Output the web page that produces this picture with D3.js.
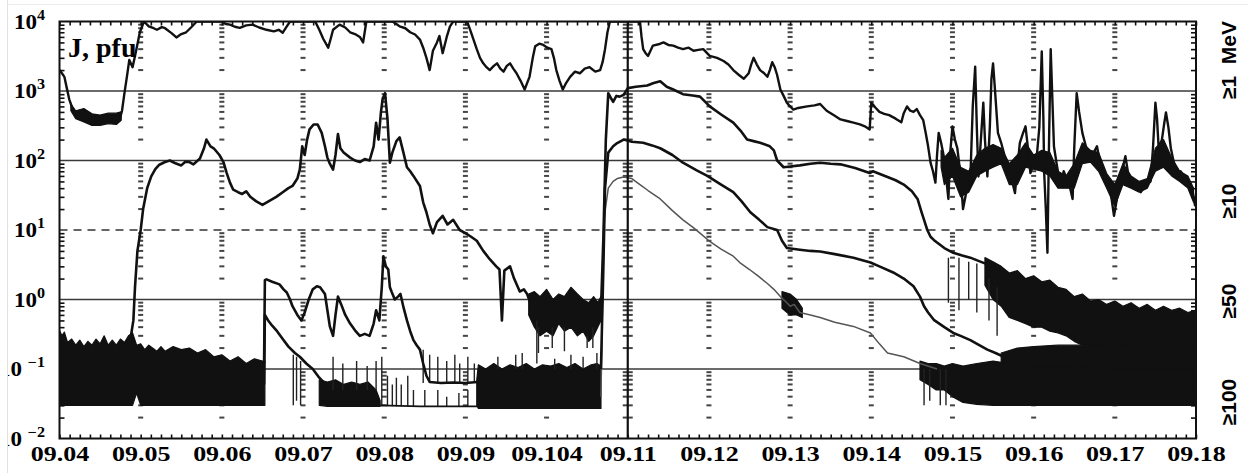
<!DOCTYPE html>
<html>
<head>
<meta charset="utf-8">
<script src="https://cdn.jsdelivr.net/npm/d3@7"></script>
<style>
  body { margin: 0; background: #fff; }
  svg { display: block; }
</style>
</head>
<body>
<svg id="chart" width="1248" height="473"></svg>
<script>
///////////////////////////////////////////////////////////
// Data: [day of September, flux in pfu]

// >=1 MeV
const ch1 = [
  [4.00,2000],[4.03,1800],[4.06,1600],[4.09,1100],[4.12,760],[4.16,560],[4.21,460],[4.27,520],[4.33,490],[4.38,400],
  [4.42,430],[4.46,350],[4.5,420],[4.54,340],[4.58,360],[4.62,420],[4.65,450],[4.69,360],[4.74,380],[4.77,520],
  [4.8,930],[4.83,1600],[4.86,2800],[4.9,2200],[4.94,3600],[4.99,7000],[5.04,10000],[5.1,8500],[5.16,8000],[5.2,7600],
  [5.26,8300],[5.3,8000],[5.38,6800],[5.44,5900],[5.5,6600],[5.56,7000],[5.62,8200],[5.69,10000],[6.0,10000],[6.05,9200],
  [6.1,9000],[6.16,8400],[6.22,8100],[6.3,8800],[6.38,9000],[6.46,8200],[6.55,7600],[6.64,7200],[6.7,7600],[6.75,6900],
  [6.8,8500],[6.84,10000],[7.15,10000],[7.2,7600],[7.25,5600],[7.31,4200],[7.34,5600],[7.37,7600],[7.45,9000],[7.52,8200],
  [7.58,7000],[7.64,6600],[7.7,6000],[7.74,5000],[7.78,10000],[8.1,10000],[8.15,9200],[8.19,8500],[8.26,8000],[8.32,7000],
  [8.38,6500],[8.44,5500],[8.48,4200],[8.52,3000],[8.56,2000],[8.6,3800],[8.65,5000],[8.68,6200],[8.72,3500],[8.77,6000],
  [8.81,8500],[8.85,10000],[9.02,10000],[9.06,7500],[9.1,5500],[9.14,4000],[9.18,3000],[9.22,2500],[9.26,2200],[9.3,2000],
  [9.35,2300],[9.39,2500],[9.43,2100],[9.47,1900],[9.51,2300],[9.55,2500],[9.59,2100],[9.63,1800],[9.68,1400],[9.73,1050],
  [9.76,1300],[9.79,1600],[9.83,3000],[9.86,4400],[9.91,4800],[9.96,4600],[10.01,4200],[10.06,4000],[10.09,3000],[10.12,2000],
  [10.16,1400],[10.2,1050],[10.24,1300],[10.29,1600],[10.35,1900],[10.41,1800],[10.47,2100],[10.53,2200],[10.6,1900],[10.66,2000],
  [10.69,2600],[10.72,4000],[10.75,7000],[10.78,10000],[11.15,10000],[11.17,6000],[11.19,4000],[11.22,3500],[11.25,3200],[11.31,4500],
  [11.38,4700],[11.44,5000],[11.5,4600],[11.56,4500],[11.62,4200],[11.68,4000],[11.75,4200],[11.81,3800],[11.87,3900],[11.93,4000],
  [12.01,3200],[12.1,3000],[12.18,2700],[12.24,2400],[12.3,2000],[12.37,1700],[12.43,1500],[12.49,1800],[12.52,2400],[12.55,3000],
  [12.59,2400],[12.63,2000],[12.68,1800],[12.72,1600],[12.75,2000],[12.78,2600],[12.81,2200],[12.84,1700],[12.88,1050],[12.92,850],
  [12.96,680],[13.0,600],[13.04,540],[13.1,570],[13.21,600],[13.3,620],[13.37,650],[13.45,520],[13.55,440],[13.62,390],
  [13.7,370],[13.78,350],[13.86,330],[13.92,310],[13.98,280],[14.0,680],[14.05,580],[14.1,500],[14.16,470],[14.22,450],
  [14.3,400],[14.37,355],[14.4,480],[14.44,600],[14.48,520],[14.52,500],[14.56,550],[14.6,450],[14.64,380],[14.67,250],
  [14.7,160],[14.73,93],[14.76,70],[14.79,48],[14.81,120],[14.83,250],[14.86,180],[14.89,120],[14.92,60],[14.95,28],
  [14.97,120],[15.0,310],[15.03,200],[15.06,150],[15.1,60],[15.13,20],[15.17,35],[15.22,54],[15.25,600],[15.28,2240],
  [15.3,300],[15.32,59],[15.35,200],[15.38,680],[15.4,200],[15.43,59],[15.46,300],[15.48,1500],[15.5,2500],[15.52,1200],
  [15.56,250],[15.6,180],[15.64,120],[15.67,100],[15.72,60],[15.77,34],[15.8,80],[15.83,180],[15.87,250],[15.9,310],
  [15.93,150],[15.96,66],[16.0,90],[16.04,120],[16.07,300],[16.1,3700],[16.12,400],[16.13,66],[16.15,20],[16.17,4.7],
  [16.19,200],[16.21,4000],[16.23,800],[16.25,160],[16.29,80],[16.33,43],[16.37,70],[16.42,50],[16.45,40],[16.48,28],
  [16.5,150],[16.53,930],[16.56,500],[16.6,250],[16.65,150],[16.7,115],[16.74,130],[16.78,160],[16.82,90],[16.86,60],
  [16.9,45],[16.95,34],[16.99,16],[17.03,30],[17.07,43],[17.1,80],[17.13,115],[17.16,70],[17.19,43],[17.25,50],
  [17.32,35],[17.38,45],[17.44,50],[17.47,150],[17.5,680],[17.52,400],[17.54,150],[17.58,200],[17.61,350],[17.63,490],
  [17.66,300],[17.69,150],[17.73,90],[17.77,66],[17.81,70],[17.85,60],[17.89,50],[17.93,45],[17.96,35],[17.99,22]
];

// >=10 MeV, before and after the 09.10 event
const ch10a = [
  [4.88,0.3],[4.91,0.5],[4.93,1.5],[4.96,5],[5.0,10],[5.03,20],[5.08,40],[5.13,59],[5.18,75],[5.23,87],
  [5.3,95],[5.36,100],[5.42,92],[5.5,85],[5.55,96],[5.6,95],[5.65,88],[5.73,107],[5.78,150],[5.81,200],
  [5.86,160],[5.9,150],[5.97,120],[6.02,95],[6.06,66],[6.1,48],[6.14,38],[6.2,35],[6.25,33],[6.3,36],
  [6.35,30],[6.42,26],[6.5,23],[6.58,26],[6.67,30],[6.75,35],[6.82,40],[6.87,43],[6.93,55],[6.96,74],
  [6.99,160],[7.02,120],[7.05,200],[7.08,280],[7.13,330],[7.18,330],[7.23,250],[7.27,160],[7.3,110],[7.33,90],
  [7.37,74],[7.4,120],[7.43,240],[7.46,150],[7.5,130],[7.58,110],[7.64,100],[7.7,95],[7.76,105],[7.82,100],
  [7.87,160],[7.9,350],[7.93,200],[7.96,500],[7.98,760],[8.01,930],[8.04,400],[8.07,93],[8.1,130],[8.15,190],
  [8.19,215],[8.23,140],[8.28,80],[8.32,70],[8.36,60],[8.44,43],[8.48,25],[8.52,18],[8.56,12],[8.6,9],
  [8.65,13],[8.72,16],[8.78,12],[8.85,14],[8.93,10],[9.0,9],[9.07,8],[9.14,7],[9.22,5],[9.3,3.8],
  [9.38,3.0],[9.42,2.7],[9.45,0.5],[9.48,2.6],[9.55,3.0],[9.6,2.0],[9.67,1.3],[9.72,1.4],[9.76,1.2],[9.8,0.9]
];
const ch10b = [
  [10.67,0.7],[10.7,8],[10.73,200],[10.76,930],[10.79,800],[10.82,700],[10.86,850],[10.9,830],[10.95,880],[11.0,1100],
  [11.1,1150],[11.24,1200],[11.32,1300],[11.4,1380],[11.48,1150],[11.56,1050],[11.68,900],[11.8,860],[11.89,830],[12.01,600],
  [12.15,460],[12.3,350],[12.4,260],[12.47,200],[12.55,190],[12.63,180],[12.75,160],[12.8,140],[12.84,100],[12.92,80],
  [13.0,82],[13.12,85],[13.25,90],[13.37,93],[13.5,90],[13.62,88],[13.8,78],[13.98,66],[14.02,70],[14.2,58],
  [14.3,52],[14.4,45],[14.5,36],[14.57,28],[14.62,18],[14.65,14],[14.69,10],[14.73,8],[14.77,7.2],[14.81,6.6],
  [14.9,5.5],[15.01,4.7],[15.12,4.3],[15.22,4.0],[15.32,3.6],[15.43,3.2]
];

// >=50 MeV
const ch50a = [
  [6.52,0.12],[6.53,1.9],[6.55,1.95],[6.62,1.8],[6.71,1.65],[6.76,1.4],[6.8,1.26],[6.84,1.0],[6.87,0.8],[6.93,0.6],
  [6.98,0.5],[7.02,0.65],[7.07,1.0],[7.12,1.4],[7.17,1.55],[7.21,1.5],[7.27,1.2],[7.3,0.7],[7.33,0.41],[7.37,0.3],
  [7.4,0.6],[7.43,1.1],[7.47,0.85],[7.52,0.6],[7.58,0.45],[7.64,0.36],[7.7,0.3],[7.76,0.32],[7.82,0.3],[7.87,0.45],
  [7.9,0.7],[7.94,0.5],[7.97,1.5],[7.99,4.2],[8.02,3.0],[8.05,2.7],[8.07,1.5],[8.09,1.3],[8.13,1.0],[8.17,1.1],
  [8.2,1.2],[8.24,0.75],[8.28,0.5],[8.32,0.35],[8.36,0.26],[8.4,0.22],[8.44,0.19],[8.48,0.12],[8.52,0.08],[8.56,0.065],
  [8.7,0.063],[8.85,0.064],[9.0,0.063],[9.15,0.065]
];
const ch50b = [
  [10.67,0.1],[10.7,3],[10.72,40],[10.76,130],[10.82,160],[10.87,178],[10.95,200],[11.05,186],[11.19,180],[11.3,165],
  [11.4,150],[11.55,120],[11.68,93],[11.85,72],[11.98,60],[12.15,45],[12.3,35],[12.4,26],[12.51,18],[12.62,14],
  [12.72,11],[12.84,10],[12.9,7],[12.96,5.5],[13.12,5.2],[13.25,5.0],[13.37,4.9],[13.55,4.5],[13.78,4.0],[13.99,3.4],
  [14.1,3.0],[14.27,2.45],[14.4,2.0],[14.52,1.55],[14.6,1.1],[14.65,0.8],[14.7,0.65],[14.77,0.51],[14.9,0.4],[15.01,0.33],
  [15.1,0.3],[15.22,0.26],[15.33,0.22],[15.43,0.19],[15.53,0.17],[15.63,0.15]
];

// >=100 MeV
const ch100a = [
  [6.52,0.06],[6.53,0.6],[6.57,0.5],[6.62,0.42],[6.68,0.35],[6.75,0.27],[6.82,0.21],[6.9,0.17],[6.96,0.15],[7.04,0.12],
  [7.12,0.1],[7.2,0.075],[7.25,0.065]
];
const ch100b = [
  [10.67,0.04],[10.69,1],[10.71,15],[10.76,40],[10.82,50],[10.87,55],[10.95,58],[11.05,55],[11.15,45],[11.25,37],
  [11.4,28],[11.55,19],[11.68,14],[11.8,11],[11.89,9],[12.0,7],[12.15,5.3],[12.3,4.2],[12.38,3.4],[12.5,2.7],
  [12.6,2.2],[12.72,1.7],[12.8,1.4],[12.88,1.1],[12.96,0.9],[13.0,0.8],[13.05,0.85],[13.12,0.65],[13.25,0.6],[13.37,0.55],
  [13.55,0.47],[13.78,0.41],[13.99,0.33],[14.1,0.23],[14.2,0.17],[14.4,0.15],[14.6,0.12],[14.81,0.1]
];
const ch100floor = [[7.95,0.03],[8.45,0.029],[9.15,0.029]];

// noisy stretches drawn as envelopes: [day, low, high]
const bgLeft = [
  [4.0,0.03,0.36],[4.03,0.03,0.3],[4.06,0.03,0.34],[4.1,0.03,0.24],[4.15,0.03,0.27],[4.2,0.03,0.22],[4.25,0.03,0.26],
  [4.3,0.03,0.21],[4.35,0.03,0.25],[4.4,0.03,0.22],[4.45,0.03,0.27],[4.5,0.03,0.23],[4.55,0.03,0.3],[4.6,0.03,0.22],
  [4.65,0.03,0.26],[4.7,0.03,0.22],[4.75,0.03,0.27],[4.8,0.03,0.24],[4.85,0.03,0.3],[4.9,0.03,0.33],[4.95,0.045,0.22],
  [5.0,0.03,0.23],[5.05,0.03,0.19],[5.1,0.03,0.22],[5.2,0.03,0.18],[5.25,0.03,0.21],[5.3,0.03,0.18],[5.4,0.03,0.21],
  [5.5,0.03,0.19],[5.6,0.03,0.2],[5.7,0.03,0.17],[5.8,0.03,0.19],[5.9,0.03,0.15],[6.0,0.03,0.16],[6.1,0.03,0.13],
  [6.2,0.03,0.15],[6.3,0.03,0.12],[6.4,0.03,0.14],[6.5,0.03,0.13],[6.53,0.03,0.13]
];
const bg1Left = [
  [4.14,520,650],[4.2,400,520],[4.3,360,560],[4.4,320,470],[4.5,320,450],[4.6,340,480],[4.7,330,480],[4.76,380,500]
];
const bg100Mid = [
  [7.2,0.03,0.07],[7.3,0.029,0.065],[7.4,0.029,0.07],[7.5,0.029,0.06],[7.6,0.029,0.065],[7.7,0.029,0.06],
  [7.8,0.029,0.065],[7.9,0.029,0.05],[7.95,0.029,0.035]
];
const bgLowLate = [
  [9.14,0.03,0.07],[9.16,0.027,0.115],[9.25,0.027,0.1],[9.35,0.027,0.12],[9.45,0.027,0.1],[9.55,0.027,0.115],
  [9.65,0.027,0.105],[9.75,0.027,0.12],[9.85,0.027,0.1],[9.95,0.027,0.115],[10.05,0.027,0.11],[10.15,0.027,0.12],
  [10.25,0.027,0.105],[10.35,0.027,0.12],[10.45,0.027,0.1],[10.55,0.027,0.115],[10.62,0.027,0.12],[10.67,0.027,0.11]
];
const bg10Late = [
  [9.78,0.6,1.2],[9.85,0.4,1.3],[9.92,0.3,1.1],[10.0,0.35,1.4],[10.08,0.3,1.0],[10.15,0.45,1.2],[10.22,0.35,1.1],
  [10.3,0.4,1.5],[10.38,0.3,1.2],[10.45,0.35,1.0],[10.52,0.25,0.9],[10.58,0.3,1.1],[10.63,0.4,0.9],[10.67,0.5,1.1]
];
const bg100Knee = [[12.9,0.75,1.3],[13.0,0.6,1.2],[13.08,0.6,1.0],[13.15,0.55,0.75]];
const bg1Right = [
  [14.86,80,140],[14.9,45,110],[15.0,60,150],[15.1,30,80],[15.2,35,70],[15.3,60,120],[15.4,70,150],
  [15.5,80,170],[15.6,90,150],[15.7,45,90],[15.8,45,120],[15.9,80,180],[16.0,75,120],[16.1,70,140],[16.2,60,130],
  [16.3,40,70],[16.4,40,60],[16.5,40,90],[16.6,90,180],[16.7,95,140],[16.8,70,130],[16.9,40,65],[17.0,22,45],
  [17.1,45,90],[17.2,40,60],[17.3,35,50],[17.4,40,55],[17.5,70,150],[17.6,80,200],[17.7,60,110],[17.8,50,70],
  [17.9,40,60],[17.97,25,40]
];
const bg10Right = [
  [15.4,1.6,4.0],[15.5,1.0,3.5],[15.6,0.8,3.0],[15.7,0.55,2.4],[15.8,0.5,2.6],[15.9,0.45,2.0],[16.0,0.4,2.2],
  [16.1,0.4,1.8],[16.2,0.35,1.9],[16.3,0.33,1.5],[16.4,0.3,1.4],[16.5,0.25,1.1],[16.6,0.22,1.2],[16.7,0.22,0.95],
  [16.8,0.2,1.0],[16.9,0.2,0.85],[17.0,0.19,0.95],[17.1,0.19,0.8],[17.2,0.18,0.9],[17.3,0.18,0.75],[17.4,0.18,0.85],
  [17.5,0.17,0.7],[17.6,0.17,0.8],[17.7,0.17,0.7],[17.8,0.17,0.75],[17.9,0.17,0.65],[17.99,0.17,0.7]
];
const bg50Right = [
  [15.6,0.1,0.17],[15.8,0.1,0.2],[16.0,0.09,0.21],[16.3,0.09,0.22],[16.6,0.09,0.22],[17.0,0.09,0.21],
  [17.4,0.09,0.22],[17.99,0.09,0.2]
];
const bg100Right = [
  [14.6,0.07,0.13],[14.7,0.06,0.12],[14.8,0.05,0.12],[14.9,0.05,0.11],[15.0,0.04,0.12],[15.13,0.033,0.11],
  [15.3,0.031,0.12],[15.5,0.03,0.13],[15.7,0.03,0.12],[16.0,0.03,0.11],[16.5,0.03,0.11],[17.0,0.03,0.1],[17.99,0.03,0.1]
];

// single spikes: [day, low, high]
const spikes = [
  [6.88,0.03,0.16],[6.92,0.035,0.15],[6.97,0.03,0.13],
  [7.37,0.05,0.15],[7.49,0.05,0.12],[7.66,0.05,0.13],[7.79,0.05,0.11],[7.9,0.05,0.13],
  [7.97,0.029,0.15],[8.04,0.029,0.08],[8.1,0.029,0.06],[8.15,0.029,0.075],[8.21,0.029,0.06],[8.29,0.029,0.08],[8.36,0.029,0.05],
  [8.48,0.063,0.19],[8.56,0.063,0.16],[8.66,0.063,0.15],[8.77,0.063,0.13],[8.87,0.063,0.16],[8.93,0.063,0.12],[9.03,0.063,0.15],[9.11,0.063,0.12],
  [8.5,0.029,0.05],[8.66,0.029,0.05],[8.77,0.029,0.04],[8.92,0.029,0.045],[9.03,0.029,0.05],
  [9.4,0.1,0.15],[9.62,0.1,0.16],[9.7,0.1,0.17],[10.1,0.1,0.14],[10.3,0.1,0.16],[10.45,0.1,0.15],[10.62,0.1,0.17],
  [9.88,0.12,0.5],[9.9,0.17,0.4],[10.07,0.2,0.4],[10.22,0.18,0.4],[10.5,0.2,0.3],[10.57,0.2,0.4],
  [14.95,0.9,4],[15.08,0.7,4],[15.2,1.0,3.5],[15.3,0.65,3.3],[15.45,0.5,2.0],[15.55,0.3,1.5],
  [14.65,0.03,0.1],[14.72,0.035,0.1],[14.85,0.03,0.1],[14.92,0.03,0.1]
];

// axis labels
const dayTicks = [4, 5, 6, 7, 8, 9, 10, 11, 12, 13, 14, 15, 16, 17, 18];
const dayLabels = ["09.04", "09.05", "09.06", "09.07", "09.08", "09.09", "09.104", "09.11",
                   "09.12", "09.13", "09.14", "09.15", "09.16", "09.17", "09.18"];
const decades = [1e-2, 1e-1, 1e0, 1e1, 1e2, 1e3, 1e4];
const decadeExp = ["\u22122", "\u22121", "0", "1", "2", "3", "4"];
const gridSolid = [1e-1, 1e0, 1e2, 1e3];
const gridDashed = [1e1];
const channelNames = ["\u22651\u00a0\u00a0MeV", "\u226510", "\u226550", "\u2265100"];

///////////////////////////////////////////////////////////
// Layout

const W = 1248, H = 473;
const channelLabelY = [60, 201, 301, 402];
const serif = "'Liberation Serif', 'Times New Roman', serif";
const sans = "'Liberation Sans', Arial, sans-serif";

const svg = d3.select("#chart");
svg.append("rect").attr("width", W).attr("height", H).attr("fill", "#fff");

const x = d3.scaleLinear().domain([4, 18]).range([59.5, 1196]);
const y = d3.scaleLog().domain([1e-2, 1e4]).range([438.5, 21.5]);

const x0 = x(4), x1 = x(18), yTop = y(1e4), yBot = y(1e-2);

svg.append("clipPath").attr("id", "plot-clip")
  .append("rect")
  .attr("x", x0).attr("y", yTop)
  .attr("width", x1 - x0).attr("height", yBot - yTop);

///////////////////////////////////////////////////////////
// Grid

const grid = svg.append("g");

grid.selectAll(".hsolid")
  .data(gridSolid)
  .enter().append("line")
  .attr("x1", x0).attr("x2", x1)
  .attr("y1", d => y(d)).attr("y2", d => y(d))
  .attr("stroke", "#3a3a3a")
  .attr("stroke-width", 1.7);

grid.selectAll(".hdash")
  .data(gridDashed)
  .enter().append("line")
  .attr("x1", x0).attr("x2", x1)
  .attr("y1", d => y(d)).attr("y2", d => y(d))
  .attr("stroke", "#333")
  .attr("stroke-width", 1.7)
  .attr("stroke-dasharray", "8,6");

// day columns made of the log minor ticks
const minorY = y.ticks().filter(v => decades.indexOf(v) < 0);
const innerDays = dayTicks.filter(d => d !== 4 && d !== 18);
const cells = [];
innerDays.forEach(d => minorY.forEach(v => cells.push([d, v])));

grid.selectAll(".col")
  .data(cells)
  .enter().append("line")
  .attr("x1", d => x(d[0]) - (d[0] === 11 ? 5 : 2.5))
  .attr("x2", d => x(d[0]) + (d[0] === 11 ? 5 : 2.5))
  .attr("y1", d => y(d[1])).attr("y2", d => y(d[1]))
  .attr("stroke", "#444")
  .attr("stroke-width", 2);

///////////////////////////////////////////////////////////
// Data

const plot = svg.append("g").attr("clip-path", "url(#plot-clip)");

const band = d3.area()
  .x(d => x(d[0]))
  .y0(d => y(d[1]))
  .y1(d => y(d[2]));

[bgLeft, bg1Left, bg100Mid, bgLowLate, bg10Late, bg100Knee, bg1Right, bg10Right, bg50Right, bg100Right].forEach(b => {
  plot.append("path")
    .datum(b)
    .attr("d", band)
    .attr("fill", "#111")
    .attr("stroke", "#111")
    .attr("stroke-width", 1.2)
    .attr("stroke-linejoin", "round");
});

plot.selectAll(".spike")
  .data(spikes)
  .enter().append("line")
  .attr("x1", d => x(d[0])).attr("x2", d => x(d[0]))
  .attr("y1", d => y(d[1])).attr("y2", d => y(d[2]))
  .attr("stroke", "#222")
  .attr("stroke-width", 1.4);

const line = d3.line()
  .x(d => x(d[0]))
  .y(d => y(d[1]));

const series = [
  { data: ch100a, color: "#111", width: 2.6 },
  { data: ch100b, color: "#555", width: 1.5 },
  { data: ch100floor, color: "#111", width: 1.6 },
  { data: ch50a, color: "#111", width: 2.6 },
  { data: ch50b, color: "#111", width: 2.6 },
  { data: ch10a, color: "#111", width: 2.6 },
  { data: ch10b, color: "#111", width: 2.6 },
  { data: ch1, color: "#111", width: 2.4 }
];

series.forEach(s => {
  plot.append("path")
    .datum(s.data)
    .attr("d", line)
    .attr("fill", "none")
    .attr("stroke", s.color)
    .attr("stroke-width", s.width)
    .attr("stroke-linejoin", "round");
});

///////////////////////////////////////////////////////////
// Axes

const hourTicks = d3.range(4, 18.0001, 0.125);

function styleTicks(g) {
  g.select(".domain").remove();
  g.selectAll(".tick line").attr("stroke", "#111").attr("stroke-width", 1.6);
}

svg.append("g")
  .attr("transform", `translate(0,${yBot})`)
  .call(d3.axisBottom(x).tickValues(hourTicks).tickSize(-4).tickFormat(""))
  .call(styleTicks);

svg.append("g")
  .attr("transform", `translate(0,${yTop})`)
  .call(d3.axisTop(x).tickValues(hourTicks).tickSize(-4).tickFormat(""))
  .call(styleTicks);

svg.append("g")
  .attr("transform", `translate(${x0},0)`)
  .call(d3.axisLeft(y).tickValues(minorY).tickSize(-5).tickFormat(""))
  .call(styleTicks);

svg.append("g")
  .attr("transform", `translate(${x1},0)`)
  .call(d3.axisRight(y).tickValues(minorY).tickSize(-5).tickFormat(""))
  .call(styleTicks);

// x labels
const xLab = svg.append("g")
  .attr("transform", `translate(0,${yBot})`)
  .call(d3.axisBottom(x).tickValues(dayTicks).tickSize(0)
    .tickFormat((d, i) => dayLabels[i]));
xLab.select(".domain").remove();
xLab.selectAll(".tick text")
  .attr("y", 22.5)
  .attr("dy", null)
  .attr("transform", "scale(1.3,1)")
  .attr("fill", "#000")
  .style("font-family", serif)
  .style("font-weight", "bold")
  .style("font-size", "20px");

// y labels
const yLab = svg.append("g");
const yl = yLab.selectAll(".ylab")
  .data(decades)
  .enter().append("text")
  .attr("transform", d => `translate(45,${y(d) + 7}) scale(1.15,1)`)
  .attr("text-anchor", "end")
  .attr("fill", "#000")
  .style("font-family", serif)
  .style("font-weight", "bold");
yl.append("tspan").style("font-size", "20px").text("10");
yl.append("tspan")
  .attr("dy", -9)
  .attr("dx", (d, i) => decadeExp[i].length > 1 ? 5 : 0)
  .style("font-size", "14px")
  .text((d, i) => decadeExp[i]);

// frame and panel separator
svg.append("rect")
  .attr("x", x0).attr("y", yTop)
  .attr("width", x1 - x0).attr("height", yBot - yTop)
  .attr("fill", "none")
  .attr("stroke", "#111")
  .attr("stroke-width", 2);

svg.append("line")
  .attr("x1", x(11)).attr("x2", x(11))
  .attr("y1", yTop).attr("y2", yBot)
  .attr("stroke", "#111")
  .attr("stroke-width", 2.2);

// units
svg.append("text")
  .attr("x", 68).attr("y", 57)
  .attr("fill", "#000")
  .style("font-family", serif)
  .style("font-weight", "bold")
  .style("font-size", "28px")
  .text("J, pfu");

// channel names on the right
svg.selectAll(".chan")
  .data(channelNames)
  .enter().append("text")
  .attr("transform", (d, i) => `translate(1228,${channelLabelY[i]}) rotate(-90)`)
  .attr("text-anchor", "middle")
  .attr("dominant-baseline", "central")
  .attr("fill", "#000")
  .style("font-family", sans)
  .style("font-weight", "bold")
  .style("font-size", "21px")
  .text(d => d);

// scanned page edge: left margin cut off
svg.append("rect").attr("x", 0).attr("y", 0).attr("width", 7).attr("height", H).attr("fill", "#fff");
svg.append("line")
  .attr("x1", 7.5).attr("x2", 7.5).attr("y1", 0).attr("y2", H)
  .attr("stroke", "#e2e2e2").attr("stroke-width", 1);
svg.append("line")
  .attr("x1", 7.5).attr("x2", W).attr("y1", 4.5).attr("y2", 4.5)
  .attr("stroke", "#ececec").attr("stroke-width", 1);
</script>
</body>
</html>
